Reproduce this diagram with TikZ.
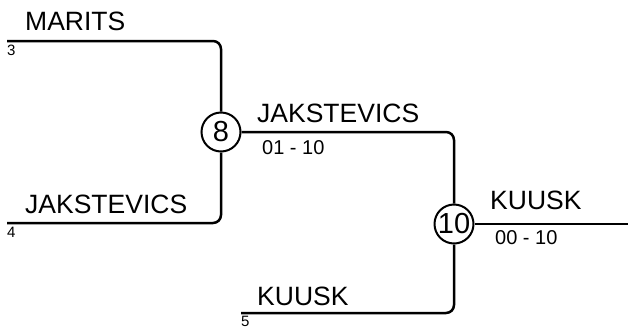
\documentclass[tikz,border=0pt]{standalone}
\usepackage{fontspec}
\setmainfont{Liberation Sans}
\usetikzlibrary{positioning}

\begin{document}
\begin{tikzpicture}[x=1pt,y=-1pt,
  bracket/.style={line width=2.5pt, rounded corners=8pt},
  match/.style={circle, draw, line width=2pt, minimum size=39pt, inner sep=0pt,
    font=\fontsize{29}{29}\selectfont},
  player/.style={anchor=base west, inner sep=0pt, font=\fontsize{26.5}{26.5}\selectfont},
  score/.style={anchor=north west, inner sep=0pt, font=\fontsize{20}{20}\selectfont},
  seed/.style={anchor=north west, inner sep=0pt, font=\fontsize{15}{15}\selectfont}]
  \useasboundingbox (0,0) rectangle (628,327);

  % Matches
  \node[match] (m8) at (221,132) {8};
  \node[match] (m10) at (454,224) {10};

  % Line ends
  \coordinate (s3) at (7,41);
  \coordinate (s4) at (7,223);
  \coordinate (s5) at (241,313);
  \coordinate (win) at (628,224);

  % Bracket lines
  \draw[bracket] (s3) -| (m8);
  \draw[bracket] (s4) -| (m8);
  \draw[bracket] (m8) -| (m10);
  \draw[bracket] (s5) -| (m10);
  \draw[bracket] (m10) -- (win);

  % Players
  \node[player] (pMarits) at (25,30) {MARITS};
  \node[player] (pJak) at (25,213) {JAKSTEVICS};
  \node[player] (pJakWin) at (257,122) {JAKSTEVICS};
  \node[player] (pKuusk) at (257,305) {KUUSK};
  \node[player] (pKuuskWin) at (490,209) {KUUSK};

  % Scores and seeds
  \node[score] (r8) at (262,140) {01 - 10};
  \node[score] (r10) at (495,230) {00 - 10};
  \node[seed] (n3) at (7,45) {3};
  \node[seed] (n4) at (7,227) {4};
  \node[seed] (n5) at (241,316) {5};
\end{tikzpicture}
\end{document}
